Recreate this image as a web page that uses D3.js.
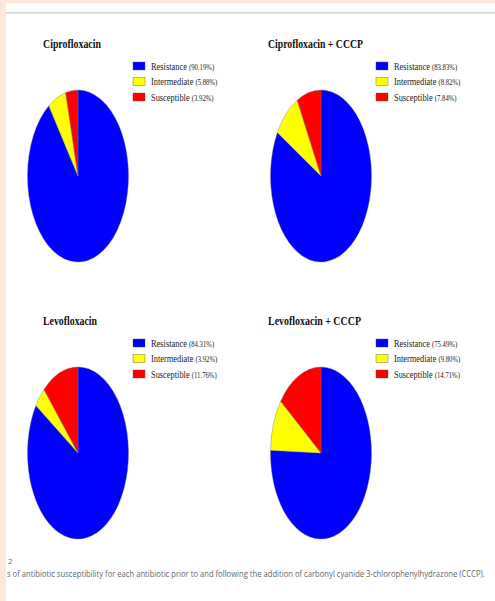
<html>
<head>
<script src="https://d3js.org/d3.v7.min.js"></script>
<style>
  body { margin: 0; background: #fff; }
  svg { display: block; }
</style>
</head>
<body>
<div id="chart"></div>
<script>
// data
const categories = ["Resistance", "Intermediate", "Susceptible"];
const colors = ["#0000ff", "#ffff00", "#ff0000"];
const titles = ["Ciprofloxacin", "Ciprofloxacin + CCCP", "Levofloxacin", "Levofloxacin + CCCP"];
const cipro = [90.19, 5.88, 3.92];
const ciproCCCP = [83.83, 8.82, 7.84];
const levo = [84.31, 3.92, 11.76];
const levoCCCP = [75.49, 9.80, 14.71];
const series = [cipro, ciproCCCP, levo, levoCCCP];
const captionNum = "2";
const captionText = "s of antibiotic susceptibility for each antibiotic prior to and following the addition of carbonyl cyanide 3-chlorophenylhydrazone (CCCP).";

const W = 495, H = 601;
const svg = d3.select("#chart").append("svg").attr("width", W).attr("height", H);

// page frame
svg.append("rect").attr("width", W).attr("height", H).attr("fill", "#fde8dc");
svg.append("rect").attr("x", 6).attr("y", 3).attr("width", W - 6).attr("height", H - 3).attr("fill", "#fff");
svg.append("rect").attr("x", 6).attr("y", 12).attr("width", W - 6).attr("height", 1.5).attr("fill", "#d4d4d4");

// panel layout
const col = d3.scaleOrdinal().domain([0, 1]).range([0, 243]);
const row = d3.scaleOrdinal().domain([0, 1]).range([0, 277]);
const titleX = [43, 25];
const titleW = [58, 95, 54, 93];

const pie = d3.pie().sort(null).value(d => d);
const R = 86;
const arc = d3.arc().innerRadius(0).outerRadius(R);

series.forEach((vals, k) => {
  const c = k % 2;
  const g = svg.append("g")
    .attr("transform", `translate(${col(c)},${row(Math.floor(k / 2))})`);

  g.append("text")
    .attr("x", titleX[c]).attr("y", 48)
    .attr("font-family", "Liberation Serif, Times New Roman, serif")
    .attr("font-weight", "bold")
    .attr("font-size", 13)
    .attr("fill", "#111")
    .attr("textLength", titleW[k])
    .attr("lengthAdjust", "spacingAndGlyphs")
    .text(titles[k]);

  // squashed pie (circle scaled horizontally)
  const p = g.append("g").attr("transform", `translate(78,176) scale(${50.5 / R},1)`);
  p.selectAll("path")
    .data(pie(vals))
    .join("path")
    .attr("d", arc)
    .attr("fill", (d, i) => colors[i])
    .attr("stroke", "#777")
    .attr("stroke-width", 0.4)
    .attr("vector-effect", "non-scaling-stroke");

  const lg = g.append("g").attr("transform", "translate(133,66)");
  categories.forEach((cat, i) => {
    const y = i * 15.5;
    lg.append("rect")
      .attr("x", 0).attr("y", y - 4).attr("width", 12).attr("height", 8)
      .attr("fill", colors[i]).attr("stroke", "#555").attr("stroke-width", 0.4);
    const t = lg.append("text")
      .attr("transform", `translate(18,${y + 3.5}) scale(0.84,1)`)
      .attr("font-family", "Liberation Serif, Times New Roman, serif")
      .attr("fill", "#222");
    t.append("tspan").attr("font-size", 10).text(cat + " ");
    t.append("tspan").attr("font-size", 8).text(`(${vals[i].toFixed(2)}%)`);
  });
});

// caption
svg.append("text")
  .attr("x", 8).attr("y", 564)
  .attr("font-family", "Open Sans, sans-serif")
  .attr("font-size", 8).attr("fill", "#666")
  .text(captionNum);
const cap = svg.append("text")
  .attr("font-family", "Open Sans, sans-serif")
  .attr("font-size", 8.5).attr("fill", "#666")
  .text(captionText);
const capLen = cap.node().getComputedTextLength();
cap.attr("transform", `translate(7,577) scale(${478 / capLen},1)`);
</script>
</body>
</html>
